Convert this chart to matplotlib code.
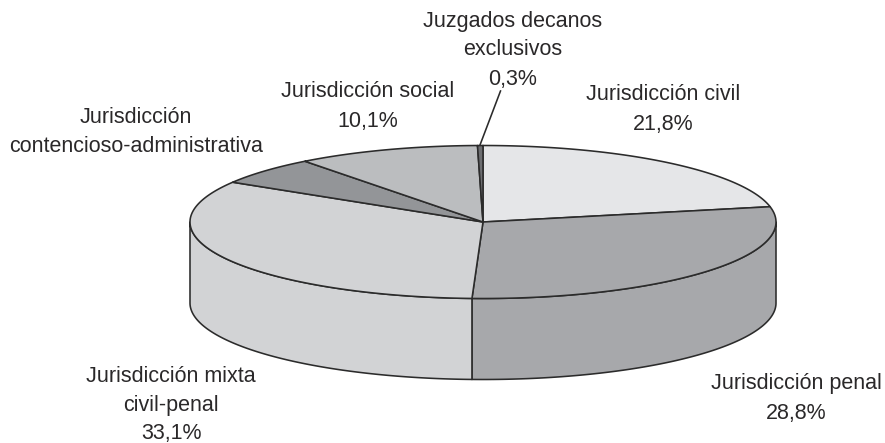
import numpy as np
import matplotlib
matplotlib.use("Agg")
import matplotlib.pyplot as plt
from matplotlib.patches import Polygon

# --- DATA ---
categories = ["Jurisdicción civil", "Jurisdicción penal", "Jurisdicción mixta civil-penal",
              "Jurisdicción contencioso-administrativa", "Jurisdicción social",
              "Juzgados decanos exclusivos"]
values = [21.8, 28.8, 33.1, 5.9, 10.1, 0.3]
colors = ["#E5E6E8", "#A7A8AB", "#D2D3D5", "#939598", "#BBBDBF", "#6D6E71"]

# --- GEOMETRY (pixels of the 885x443 picture) ---
CX, CY = 483, 222
RX, RY = 293, 76.5
DEPTH = 81
EDGE = "#2B2B2B"
LW = 1.15
FONT = "Liberation Sans"
TEXT_COLOR = "#2A2829"
FS = 15.5


def rim(a0, a1, dy=0):
    t = np.radians(np.linspace(a0, a1, 200))
    return np.column_stack([CX + RX * np.cos(t), CY + dy - RY * np.sin(t)])


fig = plt.figure(figsize=(8.85, 4.43), dpi=100, facecolor="white")
ax = fig.add_axes([0, 0, 1, 1])
ax.set_xlim(0, 885)
ax.set_ylim(443, 0)
ax.axis("off")

# slices run clockwise from twelve o'clock
cum = np.cumsum([0] + values)
angles = 90 - cum / 100 * 360

# side walls, only the front half (angles from 0 to -180) shows
for i, col in enumerate(colors):
    a0, a1 = angles[i], angles[i + 1]
    lo, hi = max(a1, -180), min(a0, 0)
    if lo >= hi:
        continue
    top = rim(hi, lo)
    bottom = rim(lo, hi, DEPTH)
    ax.add_patch(Polygon(np.vstack([top, bottom]), closed=True, facecolor=col,
                         edgecolor=EDGE, linewidth=LW, joinstyle="round", zorder=2))

# top face
for i, col in enumerate(colors):
    pts = np.vstack([[CX, CY], rim(angles[i], angles[i + 1])])
    ax.add_patch(Polygon(pts, closed=True, facecolor=col, edgecolor=EDGE,
                         linewidth=LW, joinstyle="round", zorder=3))

# leader of the small slice
ax.plot([480, 500.5], [145, 91], color=EDGE, lw=LW, zorder=4)


def label(x, y, s):
    ax.text(x, y, s, ha="center", va="center", fontsize=FS, family=FONT, color=TEXT_COLOR)


label(513, 21, "Juzgados decanos")
label(513, 49, "exclusivos")
label(513, 79, "0,3%")
label(663, 94, "Jurisdicción civil")
label(663, 124, "21,8%")
label(368, 91, "Jurisdicción social")
label(368, 121, "10,1%")
label(136, 117, "Jurisdicción")
label(136, 146, "contencioso-administrativa")
label(796, 383, "Jurisdicción penal")
label(796, 413, "28,8%")
label(171, 377, "Jurisdicción mixta")
label(171, 405, "civil-penal")
label(171, 434, "33,1%")

plt.savefig("out.png", dpi=100, facecolor="white")
plt.close()
